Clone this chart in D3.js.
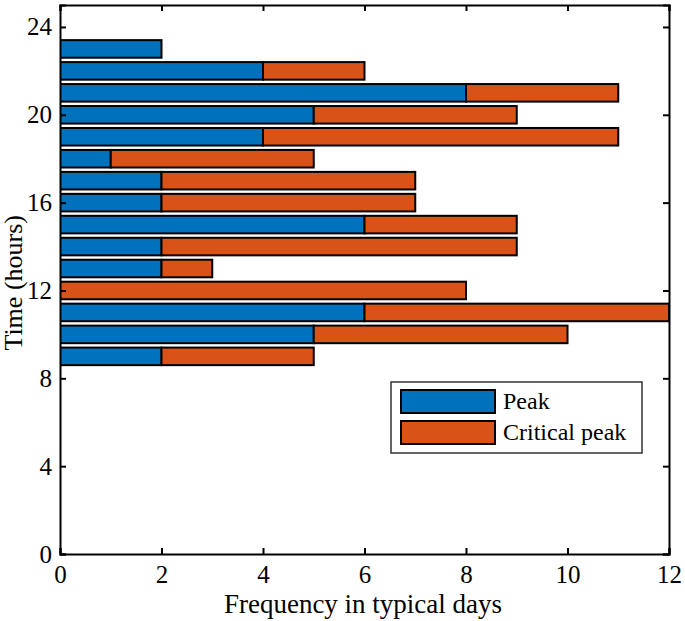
<!DOCTYPE html>
<html><head><meta charset="utf-8">
<script src="https://cdn.jsdelivr.net/npm/d3@7"></script>
<style>body{margin:0;background:#fff} svg text{font-family:"Liberation Serif","Times New Roman",serif;}</style>
</head><body>
<script>
const hours = [9,10,11,12,13,14,15,16,17,18,19,20,21,22,23];
const peak = [2,5,6,0,2,2,6,2,2,1,4,5,8,4,2];
const critical = [3,5,6,8,1,7,3,5,5,4,7,4,3,2,0];
const xTicks = [0,2,4,6,8,10,12];
const yTicks = [0,4,8,12,16,20,24];
const seriesNames = ["Peak","Critical peak"];
const colors = ["#0072BD","#D95319"];

const W=685,H=621;
const m={l:60,t:5,r:16,b:67};
const FF="Liberation Serif";
const svg=d3.select("body").append("svg").attr("width",W).attr("height",H)
  .attr("font-family",FF);
const iw=W-m.l-m.r, ih=H-m.t-m.b;
const x=d3.scaleLinear().domain([0,12]).range([m.l,m.l+iw]);
const y=d3.scaleLinear().domain([0,25]).range([m.t+ih,m.t]);
const bh=(y(0)-y(1))*0.8;

svg.append("clipPath").attr("id","c").append("rect")
  .attr("x",m.l).attr("y",m.t).attr("width",iw).attr("height",ih);
const g=svg.append("g").attr("clip-path","url(#c)");
const data=hours.map((h,i)=>({h,p:peak[i],c:critical[i]}));
const stack=d3.stack().keys(["p","c"])(data);
stack.forEach((s,si)=>{
  g.selectAll(null).data(s.filter(d=>d[1]-d[0]>0)).join("rect")
   .attr("x",d=>x(d[0])).attr("width",d=>x(d[1])-x(d[0]))
   .attr("y",d=>y(d.data.h)-bh/2).attr("height",bh)
   .attr("fill",colors[si]).attr("stroke","#000").attr("stroke-width",2);
});

// axes
const ax=svg.append("g");
ax.append("g").attr("transform",`translate(0,${m.t+ih})`)
  .call(d3.axisBottom(x).tickValues(xTicks).tickSize(-6).tickPadding(11).tickFormat(d3.format("d")));
ax.append("g").attr("transform",`translate(0,${m.t})`)
  .call(d3.axisTop(x).tickValues(xTicks).tickSize(-6).tickFormat(""));
ax.append("g").attr("transform",`translate(${m.l},0)`)
  .call(d3.axisLeft(y).tickValues(yTicks).tickSize(-6).tickPadding(8).tickFormat(d3.format("d")));
ax.append("g").attr("transform",`translate(${m.l+iw},0)`)
  .call(d3.axisRight(y).tickValues(yTicks).tickSize(-6).tickFormat(""));
ax.selectAll("g").attr("font-family",FF).attr("font-size",25);
ax.selectAll(".domain").attr("stroke","#000").attr("stroke-width",2);
ax.selectAll(".tick line").attr("stroke","#000").attr("stroke-width",2);
ax.selectAll("text").attr("fill","#000");

svg.append("text").attr("x",(223+503)/2).attr("y",613).attr("text-anchor","middle")
  .attr("font-size",27).text("Frequency in typical days");
svg.append("text").attr("transform",`translate(22,${y(12.35)}) rotate(-90)`)
  .attr("text-anchor","middle").attr("font-size",26).text("Time (hours)");

// legend
const lg=svg.append("g");
lg.append("rect").attr("x",391).attr("y",382).attr("width",251).attr("height",71)
  .attr("fill","#fff").attr("stroke","#333").attr("stroke-width",1.5);
seriesNames.forEach((n,i)=>{
  lg.append("rect").attr("x",401).attr("y",390+i*31).attr("width",94).attr("height",23)
    .attr("fill",colors[i]).attr("stroke","#000").attr("stroke-width",2);
  lg.append("text").attr("x",503).attr("y",409+i*31).attr("font-size",24).text(n);
});
</script>
</body></html>
